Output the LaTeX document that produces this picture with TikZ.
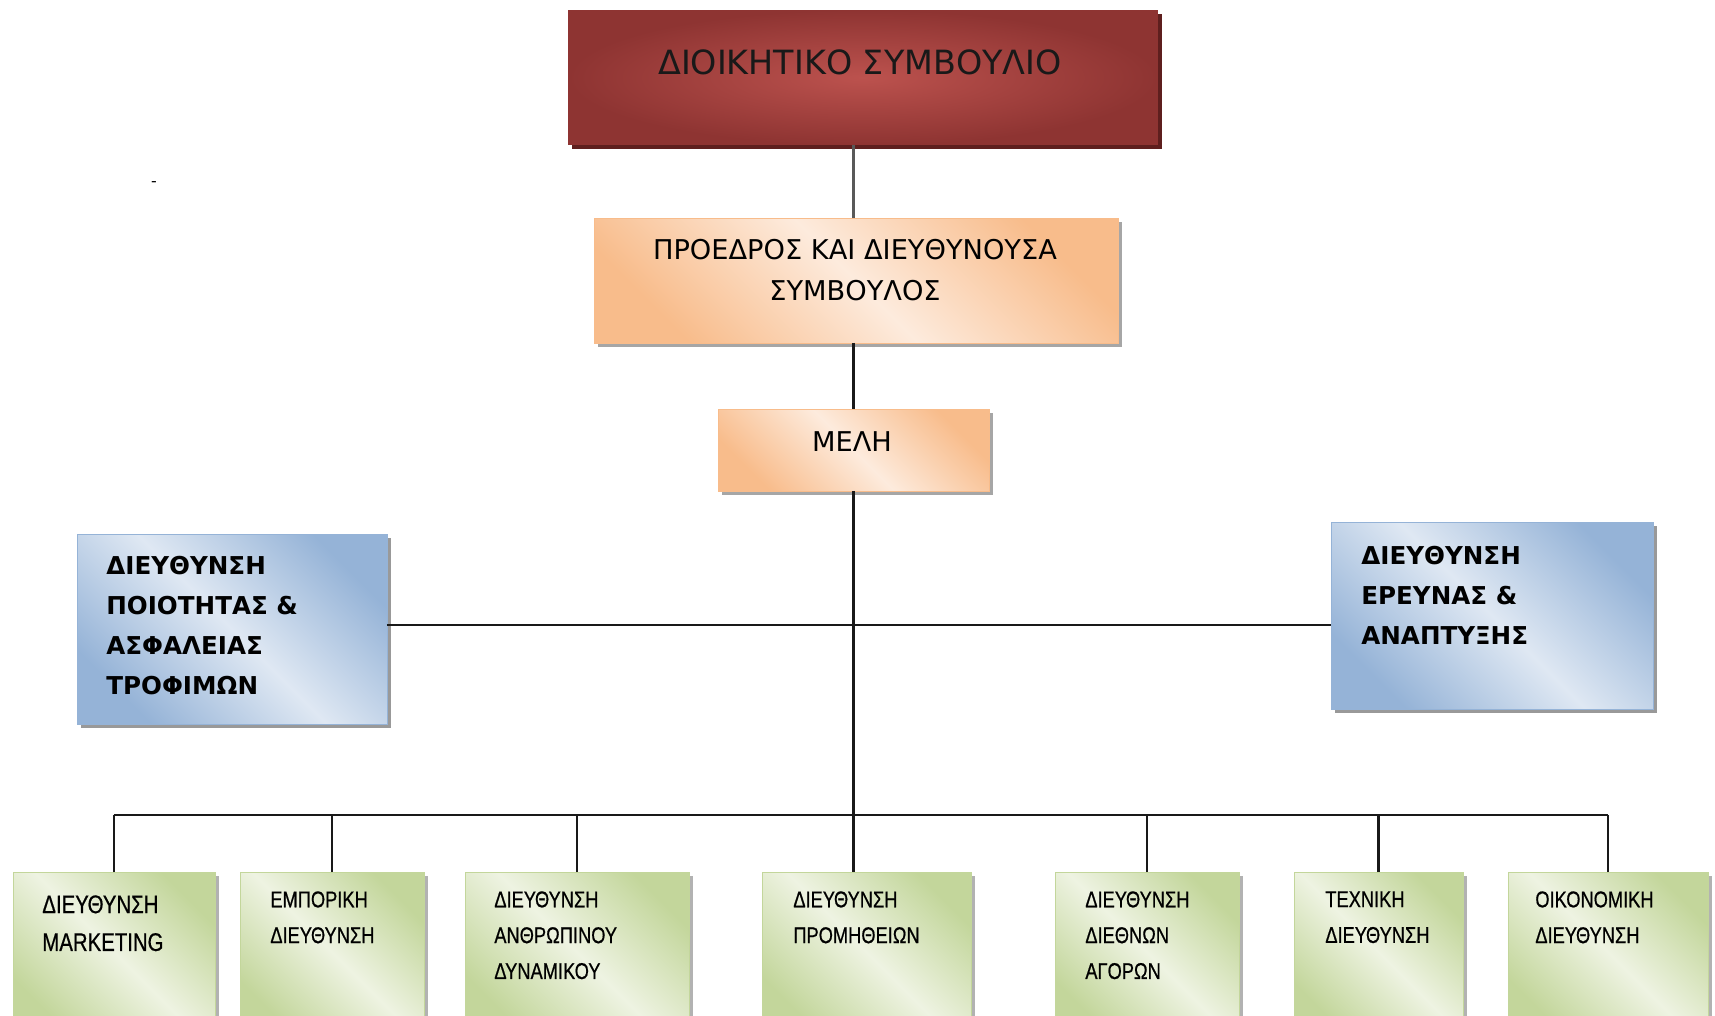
\documentclass[tikz,border=0pt]{standalone}
\usepackage{fontspec}
\setmainfont{DejaVu Sans}
\newfontfamily\narrowfont[FakeStretch=0.8, FakeBold=0.6]{Liberation Sans}
\usetikzlibrary{shadows}

\definecolor{boardred}{HTML}{8E3432}
\definecolor{boardmid}{HTML}{BC524E}
\definecolor{boardshadow}{HTML}{5E1F1E}
\definecolor{orangedark}{HTML}{F8BC8B}
\definecolor{orangelight}{HTML}{FDEBDD}
\definecolor{bluedark}{HTML}{95B3D7}
\definecolor{bluelight}{HTML}{DFE8F3}
\definecolor{greendark}{HTML}{C3D69B}
\definecolor{greenlight}{HTML}{EEF3E2}

\begin{document}
\begin{tikzpicture}[
		x=0.02cm, y=-0.02cm,
		box/.style={anchor=north west, inner sep=0, outer sep=0, line width=0.4pt},
		boardbox/.style={box, inner color=boardmid, outer color=boardred,
			drop shadow={shadow xshift=2.5pt, shadow yshift=-2.5pt, fill=boardshadow, opacity=1}},
		headbox/.style={box, draw=orangedark, top color=orangedark, bottom color=orangedark, middle color=orangelight, shading angle=-45,
			drop shadow={shadow xshift=2.5pt, shadow yshift=-2.5pt, fill=black!35, opacity=1}},
		sidebox/.style={box, draw=bluedark, top color=bluedark, bottom color=bluedark, middle color=bluelight, shading angle=-45,
			drop shadow={shadow xshift=2.5pt, shadow yshift=-2.5pt, fill=black!40, opacity=1}},
		deptbox/.style={box, draw=greendark, top color=greendark, bottom color=greendark, middle color=greenlight, shading angle=-45,
			drop shadow={shadow xshift=2.5pt, shadow yshift=-2.5pt, fill=black!30, opacity=1}},
		sidetext/.style={anchor=north west, inner sep=0, align=left, font=\bfseries\fontsize{14}{22.7}\selectfont},
		depttext/.style={anchor=north west, inner sep=0, align=left, font=\narrowfont\fontsize{13}{20.4}\selectfont},
		conn/.style={line width=1.3pt, black!90}
		]
		\useasboundingbox (0,0) rectangle (1715,1015);
		\fill[white] (0,0) rectangle (1715,1015);
		\clip (0,0) rectangle (1715,1015);

		% Board of directors
		\node[boardbox, minimum width=11.8cm, minimum height=2.7cm] (board) at (568,10) {};
		\node[inner sep=0, text=black!90, font=\fontsize{19}{23}\selectfont] (boardtxt) at (860,62) {ΔΙΟΙΚΗΤΙΚΟ ΣΥΜΒΟΥΛΙΟ};
		% President
		\node[headbox, minimum width=10.48cm, minimum height=2.5cm] (ceo) at (594,218) {};
		\node[inner sep=0, align=center, font=\fontsize{15.5}{23}\selectfont] (ceotxt) at (855,270) {ΠΡΟΕΔΡΟΣ ΚΑΙ ΔΙΕΥΘΥΝΟΥΣΑ\\ΣΥΜΒΟΥΛΟΣ};
		% Members
		\node[headbox, minimum width=5.42cm, minimum height=1.64cm] (members) at (718,409) {};
		\node[inner sep=0, font=\fontsize{15.5}{23}\selectfont] (memberstxt) at (852,442) {ΜΕΛΗ};

		% Side directorates
		\node[sidebox, minimum width=6.2cm, minimum height=3.8cm] (quality) at (77,534) {};
		\node[sidetext] (qualitytxt) at (106,556) {ΔΙΕΥΘΥΝΣΗ\\ΠΟΙΟΤΗΤΑΣ \&\\ΑΣΦΑΛΕΙΑΣ\\ΤΡΟΦΙΜΩΝ};
		\node[sidebox, minimum width=6.44cm, minimum height=3.74cm] (research) at (1331,522) {};
		\node[sidetext] (researchtxt) at (1361,546) {ΔΙΕΥΘΥΝΣΗ\\ΕΡΕΥΝΑΣ \&\\ΑΝΑΠΤΥΞΗΣ};

		% Departments
		\node[deptbox, minimum width=4.04cm, minimum height=3.2cm] (marketing) at (13,872) {};
		\node[depttext, font=\narrowfont\fontsize{14.5}{21.5}\selectfont] (marketingtxt) at (42,895) {ΔΙΕΥΘΥΝΣΗ\\MARKETING};
		\node[deptbox, minimum width=3.68cm, minimum height=3.2cm] (sales) at (240,872) {};
		\node[depttext] (salestxt) at (270,891) {ΕΜΠΟΡΙΚΗ\\ΔΙΕΥΘΥΝΣΗ};
		\node[deptbox, minimum width=4.48cm, minimum height=3.2cm] (hr) at (465,872) {};
		\node[depttext] (hrtxt) at (494,891) {ΔΙΕΥΘΥΝΣΗ\\ΑΝΘΡΩΠΙΝΟΥ\\ΔΥΝΑΜΙΚΟΥ};
		\node[deptbox, minimum width=4.18cm, minimum height=3.2cm] (supply) at (762,872) {};
		\node[depttext] (supplytxt) at (793,891) {ΔΙΕΥΘΥΝΣΗ\\ΠΡΟΜΗΘΕΙΩΝ};
		\node[deptbox, minimum width=3.68cm, minimum height=3.2cm] (export) at (1055,872) {};
		\node[depttext] (exporttxt) at (1085,891) {ΔΙΕΥΘΥΝΣΗ\\ΔΙΕΘΝΩΝ\\ΑΓΟΡΩΝ};
		\node[deptbox, minimum width=3.38cm, minimum height=3.2cm] (tech) at (1294,872) {};
		\node[depttext] (techtxt) at (1325,891) {ΤΕΧΝΙΚΗ\\ΔΙΕΥΘΥΝΣΗ};
		\node[deptbox, minimum width=4.0cm, minimum height=3.2cm] (finance) at (1508,872) {};
		\node[depttext] (financetxt) at (1535,891) {ΟΙΚΟΝΟΜΙΚΗ\\ΔΙΕΥΘΥΝΣΗ};

		% Stray mark
		\node[inner sep=0, font=\small] (stray) at (154,184) {-};

		% Lines
		\coordinate (mid) at (853,625);
		\coordinate (bus) at (853,815);
		\draw[conn, black!65] (board.south -| members.north) -- (ceo.north -| members.north);
		\draw[conn] (ceo.south -| members.north) -- (members.north);
		\draw[conn] (members.south) -- (members.south |- supply.north);
		\draw[conn] (quality.east |- mid) -- (research.west |- mid);
		\draw[conn] (marketing.north |- bus) -- (finance.north |- bus);
		\foreach \dept in {marketing, sales, hr, export, tech, finance}
			\draw[conn] (\dept.north) -- (\dept.north |- bus);
	\end{tikzpicture}
\end{document}
